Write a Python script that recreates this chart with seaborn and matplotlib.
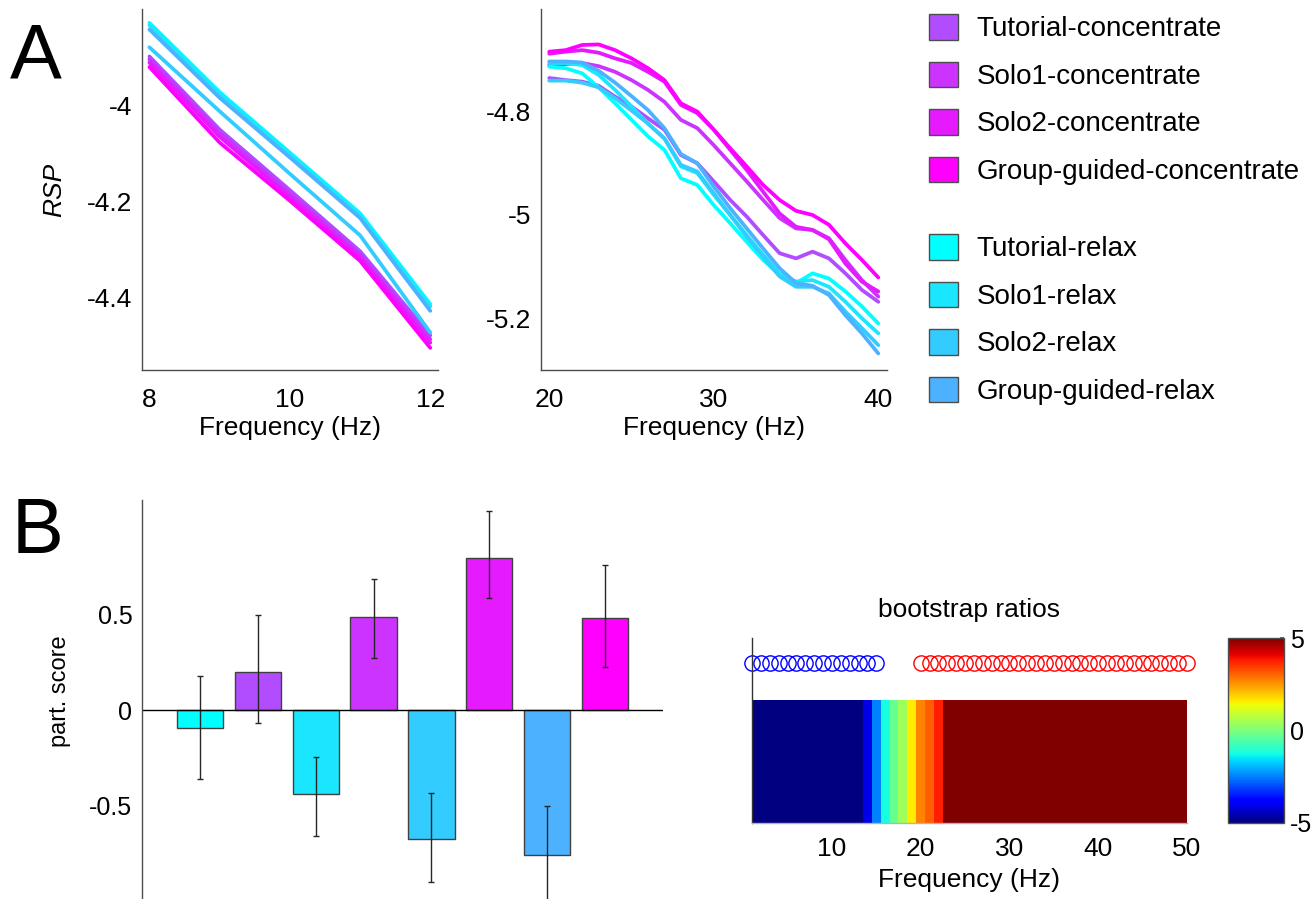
import numpy as np
import pandas as pd
import matplotlib
matplotlib.use("Agg")
import matplotlib.pyplot as plt
import seaborn as sns
from matplotlib.patches import Patch

# ---------------- data ----------------
conc_names = ["Tutorial-concentrate", "Solo1-concentrate", "Solo2-concentrate", "Group-guided-concentrate"]
relax_names = ["Tutorial-relax", "Solo1-relax", "Solo2-relax", "Group-guided-relax"]
conc_colors = ["#b24cff", "#cc33ff", "#e51aff", "#ff00ff"]
relax_colors = ["#00ffff", "#1ae6ff", "#33ccff", "#4cb2ff"]

alpha_freq = [8, 9, 10, 11, 12]
alpha_tut_relax = [-3.828, -3.972, -4.098, -4.224, -4.413]
alpha_solo1_relax = [-3.833, -3.976, -4.101, -4.228, -4.418]
alpha_solo2_relax = [-3.879, -4.012, -4.142, -4.270, -4.472]
alpha_group_relax = [-3.842, -3.984, -4.108, -4.234, -4.427]
alpha_tut_conc = [-3.898, -4.050, -4.176, -4.303, -4.478]
alpha_solo1_conc = [-3.904, -4.057, -4.183, -4.310, -4.486]
alpha_solo2_conc = [-3.911, -4.065, -4.190, -4.316, -4.493]
alpha_group_conc = [-3.920, -4.077, -4.198, -4.323, -4.504]

beta_freq = [20, 21, 22, 23, 24, 25, 26, 27, 28, 29, 30, 31, 32, 33, 34, 35, 36, 37, 38, 39, 40]
beta_tut_relax = [-4.713, -4.716, -4.726, -4.753, -4.784, -4.816, -4.848, -4.874, -4.929, -4.942, -4.981,
                  -5.016, -5.052, -5.087, -5.116, -5.132, -5.113, -5.123, -5.148, -5.177, -5.210]
beta_solo1_relax = [-4.706, -4.706, -4.710, -4.729, -4.758, -4.790, -4.823, -4.852, -4.906, -4.919, -4.961,
                    -5.000, -5.039, -5.077, -5.113, -5.129, -5.126, -5.139, -5.168, -5.200, -5.229]
beta_solo2_relax = [-4.740, -4.740, -4.744, -4.753, -4.774, -4.798, -4.823, -4.852, -4.903, -4.916, -4.958,
                    -5.000, -5.042, -5.081, -5.119, -5.139, -5.139, -5.152, -5.187, -5.219, -5.252]
beta_group_relax = [-4.703, -4.703, -4.705, -4.721, -4.744, -4.770, -4.797, -4.832, -4.882, -4.900, -4.945,
                    -4.987, -5.026, -5.065, -5.103, -5.132, -5.137, -5.155, -5.194, -5.229, -5.268]
beta_tut_conc = [-4.735, -4.739, -4.742, -4.750, -4.771, -4.790, -4.813, -4.835, -4.884, -4.900, -4.935,
                 -4.971, -5.003, -5.039, -5.074, -5.084, -5.071, -5.084, -5.113, -5.145, -5.168]
beta_solo1_conc = [-4.710, -4.708, -4.706, -4.712, -4.723, -4.739, -4.758, -4.781, -4.816, -4.832, -4.865,
                   -4.900, -4.935, -4.971, -5.006, -5.026, -5.029, -5.045, -5.087, -5.126, -5.158]
beta_solo2_conc = [-4.688, -4.684, -4.681, -4.686, -4.697, -4.706, -4.723, -4.742, -4.787, -4.803, -4.835,
                   -4.874, -4.913, -4.955, -4.997, -5.023, -5.029, -5.047, -5.094, -5.129, -5.148]
beta_group_conc = [-4.684, -4.681, -4.671, -4.670, -4.681, -4.697, -4.716, -4.739, -4.784, -4.800, -4.835,
                   -4.871, -4.906, -4.942, -4.971, -4.992, -5.000, -5.019, -5.055, -5.087, -5.121]

bar_labels = ["Tutorial-relax", "Tutorial-concentrate", "Solo1-relax", "Solo1-concentrate",
              "Solo2-relax", "Solo2-concentrate", "Group-guided-relax", "Group-guided-concentrate"]
bar_values = [-0.092, 0.200, -0.440, 0.487, -0.674, 0.794, -0.757, 0.480]
bar_err_high = [0.180, 0.499, -0.244, 0.688, -0.435, 1.042, -0.504, 0.757]
bar_err_low = [-0.363, -0.070, -0.658, 0.274, -0.899, 0.585, -1.010, 0.223]

bsr_freq = list(range(1, 51))
bsr_values = [-7.9, -8.4, -8.8, -9.1, -8.6, -8.2, -7.7, -7.3, -6.9, -6.6, -6.2, -5.8, -5.3,
              -4.1, -2.5, -1.25, -0.27, 0.4, 1.6, 2.7, 3.1, 3.75,
              5.4, 6.1, 6.9, 7.6, 8.2, 8.7, 9.1, 9.4, 9.6, 9.8, 9.9, 10.1, 10.2, 10.0, 9.8,
              9.7, 9.5, 9.4, 9.2, 9.0, 8.9, 8.7, 8.6, 8.4, 8.3, 8.1, 8.0, 7.8]
neg_freq = [1, 2, 3, 4, 5, 6, 7, 8, 9, 10, 11, 12, 13, 14, 15]
pos_freq = [20, 21, 22, 23, 24, 25, 26, 27, 28, 29, 30, 31, 32, 33, 34, 35, 36, 37, 38, 39, 40,
            41, 42, 43, 44, 45, 46, 47, 48, 49, 50]

# ---------------- tidy frames ----------------
names = conc_names + relax_names
palette = dict(zip(names, conc_colors + relax_colors))
alpha_sets = [alpha_tut_conc, alpha_solo1_conc, alpha_solo2_conc, alpha_group_conc,
              alpha_tut_relax, alpha_solo1_relax, alpha_solo2_relax, alpha_group_relax]
beta_sets = [beta_tut_conc, beta_solo1_conc, beta_solo2_conc, beta_group_conc,
             beta_tut_relax, beta_solo1_relax, beta_solo2_relax, beta_group_relax]

df_alpha = pd.concat([pd.DataFrame({"freq": alpha_freq, "rsp": v, "cond": n})
                      for n, v in zip(names, alpha_sets)])
df_beta = pd.concat([pd.DataFrame({"freq": beta_freq, "rsp": v, "cond": n})
                     for n, v in zip(names, beta_sets)])

# ---------------- style ----------------
sns.set_theme(style="white")
plt.rcParams["font.family"] = ["Liberation Sans", "DejaVu Sans"]
plt.rcParams["axes.edgecolor"] = "0.3"
plt.rcParams["axes.linewidth"] = 1.0
plt.rcParams["text.color"] = "black"
plt.rcParams["axes.labelcolor"] = "black"
plt.rcParams["xtick.color"] = "black"
plt.rcParams["ytick.color"] = "black"

W, H = 1314, 899
fig = plt.figure(figsize=(W / 100, H / 100), dpi=100)


def box(x0, y0, x1, y1):
    return [x0 / W, 1 - y1 / H, (x1 - x0) / W, (y1 - y0) / H]


# ---------------- panel A ----------------
axL = fig.add_axes(box(141.7, 9.3, 438, 370))
axR = fig.add_axes(box(540.7, 9.3, 886.7, 370))

sns.lineplot(data=df_alpha, x="freq", y="rsp", hue="cond", palette=palette, hue_order=names,
             lw=2.7, legend=False, errorbar=None, ax=axL)
sns.lineplot(data=df_beta, x="freq", y="rsp", hue="cond", palette=palette, hue_order=names,
             lw=2.7, legend=False, errorbar=None, ax=axR)

axL.set_xlim(7.89, 12.11)
axL.set_ylim(-4.55, -3.80)
axL.set_xticks([8, 10, 12])
axL.set_yticks([-4, -4.2, -4.4])
axL.set_yticklabels(["-4", "-4.2", "-4.4"])

axR.set_xlim(19.48, 40.51)
axR.set_ylim(-5.30, -4.602)
axR.set_xticks([20, 30, 40])
axR.set_yticks([-4.8, -5, -5.2])
axR.set_yticklabels(["-4.8", "-5", "-5.2"])

for ax in (axL, axR):
    sns.despine(ax=ax)
    ax.tick_params(axis="both", labelsize=19, labelcolor="black", length=3, width=1,
                   direction="out", color="0.3")
    ax.tick_params(axis="x", pad=10)
    ax.tick_params(axis="y", pad=4)
    ax.set_xlabel("Frequency (Hz)", fontsize=19, va="top")
    ax.xaxis.set_label_coords(0.5, -0.128)
    ax.set_ylabel("")

axL.set_ylabel("RSP", fontsize=19, style="italic")
axL.yaxis.set_label_coords(-0.255, 0.5)

leg_kw = dict(loc="upper left", frameon=False, fontsize=20, handlelength=1.05, handleheight=1.05,
              handletextpad=0.66, labelspacing=0.69, borderpad=0, borderaxespad=0)
h1 = [Patch(facecolor=c, edgecolor="0.3", lw=1) for c in conc_colors]
h2 = [Patch(facecolor=c, edgecolor="0.3", lw=1) for c in relax_colors]
fig.legend(h1, conc_names, bbox_to_anchor=(929 / W, 1 - 14 / H), **leg_kw)
fig.legend(h2, relax_names, bbox_to_anchor=(929 / W, 1 - 234 / H), **leg_kw)

fig.text(10 / W, 1 - 78 / H, "A", fontsize=56, ha="left", va="baseline", color="black")
fig.text(12 / W, 1 - 553 / H, "B", fontsize=56, ha="left", va="baseline", color="black")

# ---------------- panel B: bars ----------------
axB = fig.add_axes(box(142, 500, 663, 899))
bar_colors = [relax_colors[0], conc_colors[0], relax_colors[1], conc_colors[1],
              relax_colors[2], conc_colors[2], relax_colors[3], conc_colors[3]]
sns.barplot(x=bar_labels, y=bar_values, hue=bar_labels, palette=bar_colors, legend=False,
            width=0.8, edgecolor="0.25", linewidth=1, errorbar=None, saturation=1, ax=axB)
vals = np.array(bar_values)
yerr = [vals - np.array(bar_err_low), np.array(bar_err_high) - vals]
axB.errorbar(np.arange(len(vals)), vals, yerr=yerr, fmt="none", ecolor="0.15",
             elinewidth=1, capsize=2.5, capthick=1)
axB.axhline(0, color="black", lw=1)
axB.set_xlim(-1, 8)
axB.set_ylim(-0.99, 1.10)
axB.set_xticks([])
axB.set_yticks([-0.5, 0, 0.5])
axB.set_yticklabels(["-0.5", "0", "0.5"])
axB.tick_params(axis="y", labelsize=18, length=0, pad=7, labelcolor="black")
sns.despine(ax=axB, bottom=True)
axB.set_ylabel("part. score", fontsize=17)
axB.yaxis.set_label_coords(-0.137, 0.52)

# ---------------- panel B: bootstrap ratios ----------------
axH = fig.add_axes(box(752, 638, 1187, 823))
cax = fig.add_axes(box(1228, 638, 1284, 823))
bsr_df = pd.DataFrame([bsr_values], columns=bsr_freq)
sns.heatmap(bsr_df, cmap="jet", vmin=-5, vmax=5, ax=axH, cbar_ax=cax,
            xticklabels=False, yticklabels=False, cbar_kws={"ticks": [-5, 0, 5]})
axH.set_xlim(0.5, 49.5)
axH.set_ylim(1, -0.504)
axH.plot([f - 0.5 for f in neg_freq], [-0.303] * len(neg_freq), "o", mfc="none", mec="blue",
         ms=11, mew=1, clip_on=False)
axH.plot([f - 0.5 for f in pos_freq], [-0.303] * len(pos_freq), "o", mfc="none", mec="red",
         ms=11, mew=1, clip_on=False)
axH.set_xticks([9.5, 19.5, 29.5, 39.5, 49.5])
axH.set_xticklabels(["10", "20", "30", "40", "50"])
axH.tick_params(axis="x", labelsize=19, length=0, pad=10, labelcolor="black", rotation=0)
axH.set_yticks([])
axH.spines["left"].set_visible(True)
axH.spines["left"].set_color("0.2")
axH.spines["bottom"].set_visible(True)
axH.spines["bottom"].set_color("0.7")
axH.set_xlabel("Frequency (Hz)", fontsize=19, va="top")
axH.xaxis.set_label_coords(0.5, -0.245)
axH.set_ylabel("")
axH.set_title("bootstrap ratios", fontsize=19, pad=15, color="black")

cb = axH.collections[0].colorbar
cb.outline.set_linewidth(1)
cb.outline.set_edgecolor("0.3")
cax.set_yticklabels(["-5", "0", "5"])
cax.tick_params(labelsize=18, length=3, direction="in", pad=4, labelcolor="black", color="0.3")

fig.savefig("out.png", dpi=100)
